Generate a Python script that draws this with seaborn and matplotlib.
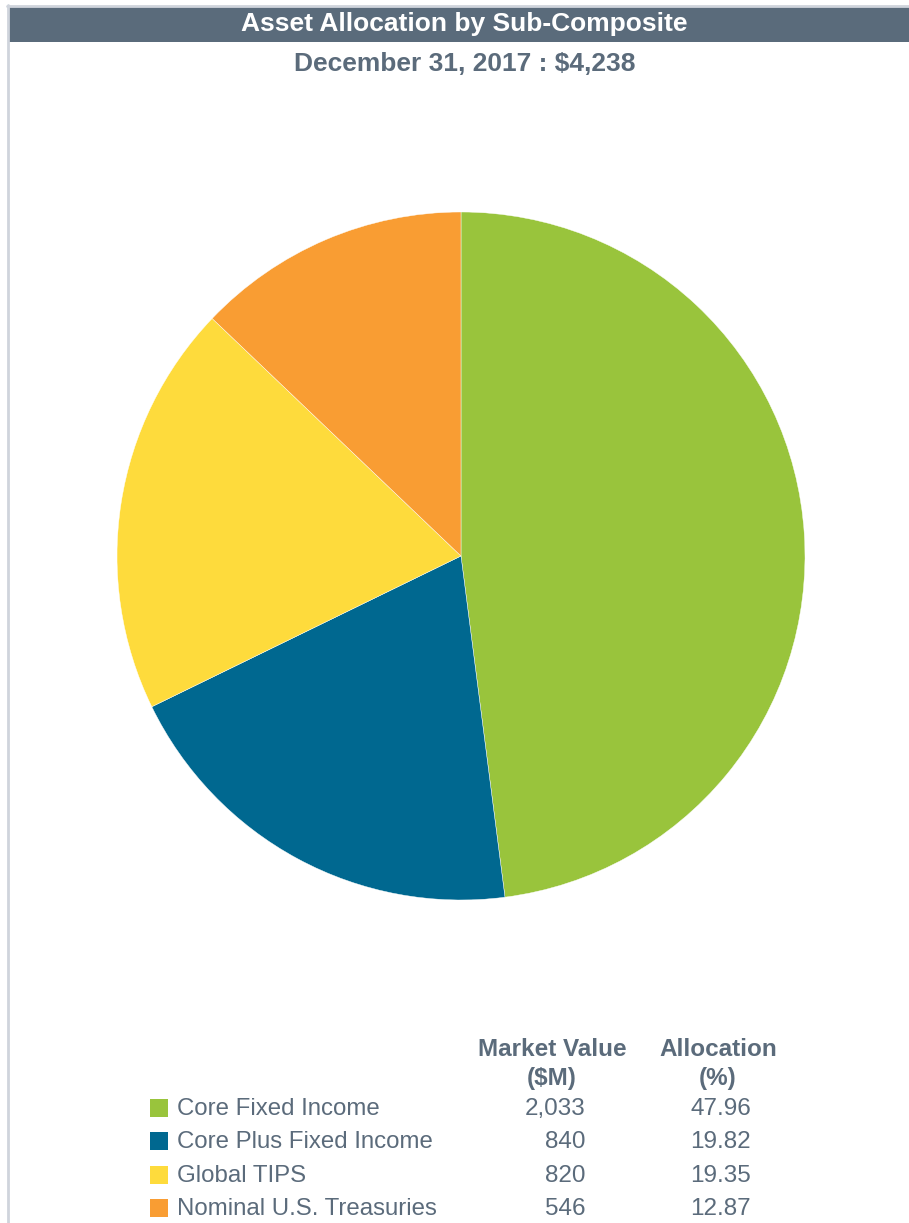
import matplotlib
matplotlib.use("Agg")
import matplotlib.pyplot as plt
import seaborn as sns
from matplotlib.patches import Rectangle
from matplotlib.lines import Line2D

sns.set_theme(style="white")
plt.rcParams['font.family'] = ['Liberation Sans', 'DejaVu Sans']

# ---- data ----
categories = ["Core Fixed Income", "Core Plus Fixed Income", "Global TIPS", "Nominal U.S. Treasuries"]
market_value = [2033, 840, 820, 546]
allocation = [47.96, 19.82, 19.35, 12.87]
colors = ["#99c43c", "#006890", "#fedb3c", "#f99d33"]
title = "Asset Allocation by Sub-Composite"
subtitle = "December 31, 2017 : $4,238"
col_headers = ["Market Value\n($M)", "Allocation\n(%)"]

W, H = 909, 1223
fig = plt.figure(figsize=(W / 100, H / 100), dpi=100)
fig.patch.set_facecolor("white")

def fx(x):
    return x / W

def fy(y):
    return 1 - y / H

text_color = "#5b6b7b"

# border lines
fig.add_artist(Line2D([fx(8), fx(8)], [fy(5), fy(H)], transform=fig.transFigure, color="#cfd4dc", lw=2))
fig.add_artist(Line2D([fx(7), fx(W)], [fy(6), fy(6)], transform=fig.transFigure, color="#cfd4dc", lw=2))
# title bar
fig.add_artist(Rectangle((fx(9), fy(42)), fx(W) - fx(9), fy(7) - fy(42), transform=fig.transFigure,
                         facecolor="#5a6b7b", edgecolor="none"))
fig.text(fx(464), fy(24), title, ha="center", va="center", color="white", fontsize=19, fontweight="bold")
fig.text(fx(465), fy(64), subtitle, ha="center", va="center", color=text_color, fontsize=19, fontweight="bold")

# pie
cx, cy, r = 461, 556, 344
ax = fig.add_axes([fx(cx - r), fy(cy + r), fx(2 * r), (2 * r) / H])
ax.pie(allocation, colors=colors, startangle=90, counterclock=False,
       wedgeprops=dict(linewidth=0.3, edgecolor="white"))
ax.set_xlim(-1, 1)
ax.set_ylim(-1, 1)
ax.set_aspect("auto")
ax.axis("off")

# legend table
fig.text(fx(552), fy(1064), col_headers[0], ha="center", va="center", color=text_color,
         fontsize=17.5, fontweight="bold", linespacing=1.28)
fig.text(fx(718), fy(1064), col_headers[1], ha="center", va="center", color=text_color,
         fontsize=17.5, fontweight="bold", linespacing=1.28)
rows_y = [1109, 1142, 1176, 1209]
for yy, cat, mv, al, c in zip(rows_y, categories, market_value, allocation, colors):
    fig.add_artist(Rectangle((fx(150), fy(yy + 8)), fx(18), 18 / H, transform=fig.transFigure,
                             facecolor=c, edgecolor="none"))
    fig.text(fx(177), fy(yy), cat, ha="left", va="center", color=text_color, fontsize=17.3)
    fig.text(fx(585), fy(yy), f"{mv:,}", ha="right", va="center", color=text_color, fontsize=17.5)
    fig.text(fx(751), fy(yy), f"{al:.2f}", ha="right", va="center", color=text_color, fontsize=17.5)

fig.savefig("out.png", dpi=100, facecolor="white")
